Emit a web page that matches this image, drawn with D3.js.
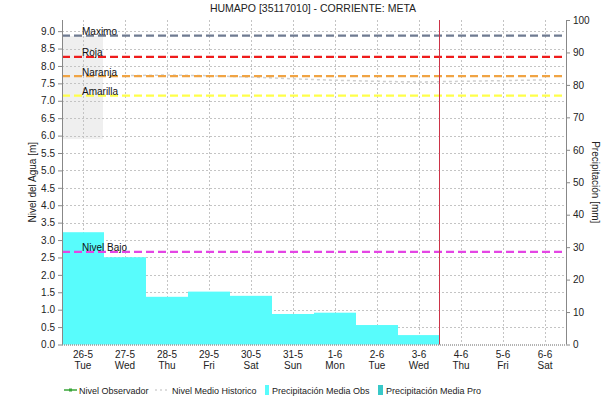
<!DOCTYPE html>
<html>
<head>
<meta charset="utf-8">
<script src="https://cdn.jsdelivr.net/npm/d3@7"></script>
<style>
  html, body { margin: 0; padding: 0; background: #fff; }
  svg { display: block; font-family: "Liberation Sans", Arial, sans-serif; }
</style>
</head>
<body>
<svg id="chart" width="603" height="403"></svg>
<script>
// Days shown on the x axis (date and weekday)
const fechas = ["26-5", "27-5", "28-5", "29-5", "30-5", "31-5", "1-6", "2-6", "3-6", "4-6", "5-6", "6-6"];
const diasSemana = ["Tue", "Wed", "Thu", "Fri", "Sat", "Sun", "Mon", "Tue", "Wed", "Thu", "Fri", "Sat"];

// Observed mean precipitation per day [mm]
const precipFechas = ["26-5", "27-5", "28-5", "29-5", "30-5", "31-5", "1-6", "2-6", "3-6"];
const precipObs = [34.6, 26.9, 14.7, 16.3, 15.0, 9.4, 9.8, 6.0, 2.9];

// Historic mean water level [m]
const nivelMedioHist = [null, 7.72, 7.74, 7.72, 7.68, 7.63, 7.59, 7.56, 7.54, 7.56, 7.58, 7.60];

// Alert thresholds [m]
const umbralNombres = ["Maximo", "Roja", "Naranja", "Amarilla", "Nivel Bajo"];
const umbralValores = [8.87, 8.26, 7.71, 7.15, 2.66];
const umbralColores = ["#6f7b91", "#ee1c1c", "#f0a444", "#ffff4a", "#e445e4"];

// Shaded band on the first day [m]
const bandaInicial = [5.9, 8.86];

// Current day marker
const diaActual = "4-6";

// Axis ticks
const ticksNivel = d3.range(0, 9.01, 0.5);
const ticksPrecip = d3.range(0, 101, 10);

const svg = d3.select("#chart");
const W = 603, H = 403;
const m = { left: 62, right: 37, top: 20, bottom: 58.5 };
const x0 = m.left, x1 = W - m.right, y0 = H - m.bottom, y1 = m.top;

svg.append("rect").attr("width", W).attr("height", H).attr("fill", "#fff");

const x = d3.scaleBand().domain(fechas).range([x0, x1]).padding(0);
const yNivel = d3.scaleLinear().domain([0, 9.32]).range([y0, y1]);
const yPrecip = d3.scaleLinear().domain([0, 100]).range([y0, y1]);

// Title
svg.append("text").attr("x", 313).attr("y", 11.5).attr("text-anchor", "middle")
  .attr("font-size", 10.5).attr("fill", "#222").text("HUMAPO [35117010] - CORRIENTE: META");

// Shaded band
svg.append("rect")
  .attr("x", x(fechas[0])).attr("width", x.bandwidth() - 1)
  .attr("y", yNivel(bandaInicial[1])).attr("height", yNivel(bandaInicial[0]) - yNivel(bandaInicial[1]))
  .attr("fill", "#efefef");

// Grid
const grid = svg.append("g").attr("stroke", "#c4c4c4").attr("stroke-dasharray", "2,2").attr("stroke-width", 1);
grid.selectAll("line.h").data(ticksNivel.slice(1)).join("line")
  .attr("x1", x0).attr("x2", x1)
  .attr("y1", d => Math.round(yNivel(d)) + 0.5).attr("y2", d => Math.round(yNivel(d)) + 0.5);
grid.selectAll("line.v").data(fechas).join("line")
  .attr("x1", d => Math.round(x(d) + x.bandwidth() / 2) + 0.5).attr("x2", d => Math.round(x(d) + x.bandwidth() / 2) + 0.5)
  .attr("y1", y1).attr("y2", y0);

// Precipitation bars
svg.append("g").selectAll("rect").data(precipObs).join("rect")
  .attr("x", (d, i) => x(precipFechas[i]))
  .attr("width", x.bandwidth())
  .attr("y", d => yPrecip(d))
  .attr("height", d => y0 - yPrecip(d))
  .attr("fill", "#58fcfc");

// Historic mean level
const lineaHist = d3.line()
  .defined(d => d != null)
  .x((d, i) => x(fechas[i]) + x.bandwidth() / 2)
  .y(d => yNivel(d));
svg.append("path").datum(nivelMedioHist)
  .attr("d", lineaHist).attr("fill", "none")
  .attr("stroke", "#cfcfcf").attr("stroke-width", 1.5).attr("stroke-dasharray", "3,3");

// Threshold lines and labels
const umbrales = svg.append("g");
umbralValores.forEach((v, i) => {
  const yy = yNivel(v);
  umbrales.append("line")
    .attr("x1", x0).attr("x2", x1).attr("y1", yy).attr("y2", yy)
    .attr("stroke", umbralColores[i]).attr("stroke-width", 2.2).attr("stroke-dasharray", "8,4");
  umbrales.append("text")
    .attr("x", 82).attr("y", yy - 0.5)
    .attr("font-size", 10).attr("fill", "#111").text(umbralNombres[i]);
});

// Current day marker
svg.append("line")
  .attr("x1", x(diaActual) - 0.5).attr("x2", x(diaActual) - 0.5)
  .attr("y1", y1).attr("y2", y0)
  .attr("stroke", "#cc3348").attr("stroke-width", 1);

// Left axis
const axL = svg.append("g").attr("transform", `translate(${x0},0)`)
  .call(d3.axisLeft(yNivel).tickValues(ticksNivel).tickFormat(d3.format(".1f")).tickSize(4).tickPadding(3));
axL.select(".domain").attr("stroke", "#888").attr("d", `M0.5,${y1}V${y0}`);
axL.selectAll(".tick line").attr("stroke", "#888");
axL.selectAll("text").attr("font-size", 10).attr("fill", "#222").attr("font-family", "Liberation Sans, Arial");

// Right axis
const axR = svg.append("g").attr("transform", `translate(${x1},0)`)
  .call(d3.axisRight(yPrecip).tickValues(ticksPrecip).tickSize(4).tickPadding(3));
axR.select(".domain").attr("stroke", "#888").attr("d", `M0.5,${y1}V${y0}`);
axR.selectAll(".tick line").attr("stroke", "#888");
axR.selectAll("text").attr("font-size", 10).attr("fill", "#222").attr("font-family", "Liberation Sans, Arial");

// Bottom axis
svg.append("line").attr("x1", x0).attr("x2", x1).attr("y1", y0 + 0.5).attr("y2", y0 + 0.5)
  .attr("stroke", "#666").attr("stroke-dasharray", "1,1");
const axB = svg.append("g");
fechas.forEach((f, i) => {
  const cx = x(f) + x.bandwidth() / 2;
  axB.append("text").attr("x", cx).attr("y", y0 + 13).attr("text-anchor", "middle")
    .attr("font-size", 10).attr("fill", "#222").text(f);
  axB.append("text").attr("x", cx).attr("y", y0 + 24.5).attr("text-anchor", "middle")
    .attr("font-size", 10).attr("fill", "#222").text(diasSemana[i]);
});

// Axis titles
const yMid = (y0 + y1) / 2;
svg.append("text").attr("transform", `translate(36,${yMid}) rotate(-90)`)
  .attr("text-anchor", "middle").attr("font-size", 10).attr("fill", "#222").text("Nivel del Agua [m]");
svg.append("text").attr("transform", `translate(592,${yMid}) rotate(90)`)
  .attr("text-anchor", "middle").attr("font-size", 10).attr("fill", "#222").text("Precipitación [mm]");

// Legend
const lg = svg.append("g").attr("font-size", 9).attr("fill", "#222");
const ly = 390;
lg.append("line").attr("x1", 64).attr("x2", 77).attr("y1", ly).attr("y2", ly).attr("stroke", "#3aa63a").attr("stroke-width", 1.5);
lg.append("rect").attr("x", 69).attr("y", ly - 1.5).attr("width", 3).attr("height", 3).attr("fill", "#3aa63a");
lg.append("text").attr("x", 79).attr("y", ly + 3.5).text("Nivel Observador");
lg.append("line").attr("x1", 155).attr("x2", 168).attr("y1", ly).attr("y2", ly).attr("stroke", "#bbb").attr("stroke-dasharray", "2,3");
lg.append("text").attr("x", 172).attr("y", ly + 3.5).text("Nivel Medio Historico");
lg.append("rect").attr("x", 265).attr("y", ly - 5).attr("width", 4).attr("height", 10).attr("fill", "#58fcfc");
lg.append("text").attr("x", 272).attr("y", ly + 3.5).text("Precipitación Media Obs");
lg.append("rect").attr("x", 378).attr("y", ly - 5).attr("width", 5).attr("height", 10).attr("fill", "#38c8c8");
lg.append("text").attr("x", 386).attr("y", ly + 3.5).text("Precipitación Media Pro");
</script>
</body>
</html>
